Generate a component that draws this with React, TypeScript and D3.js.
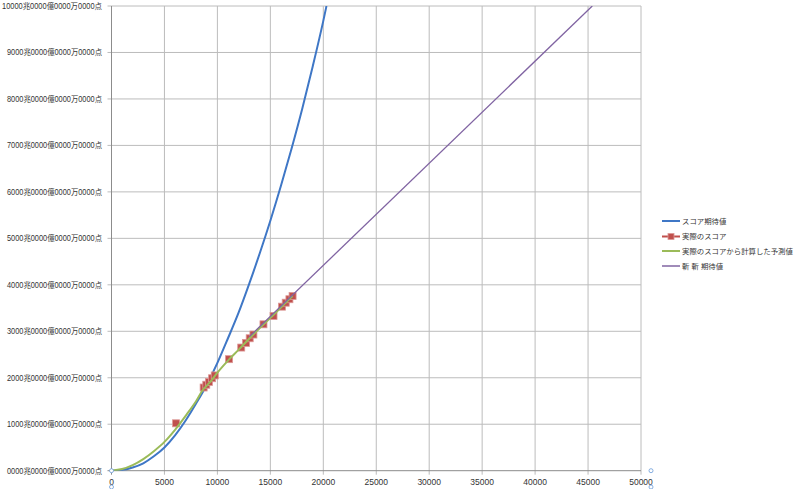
import React, { useEffect, useRef } from "react";
import * as d3 from "d3";

// blue: スコア期待値
const expectedX = [0, 1000, 2000, 3000, 4000, 5000, 6000, 7000, 8000, 9000, 10000, 11000, 12000, 13000, 14000, 15000, 16000, 17000, 18000, 19000, 20000, 20300];
const expectedY = [0, 15, 70, 160, 310, 500, 760, 1080, 1450, 1850, 2320, 2850, 3400, 4020, 4680, 5380, 6130, 6930, 7780, 8700, 9680, 10000];

// red: 実際のスコア
const actualX = [6100, 8700, 8950, 9200, 9500, 9750, 11100, 12250, 12700, 13050, 13400, 14350, 15300, 16100, 16450, 16800, 17100];
const actualY = [1020, 1790, 1850, 1910, 1990, 2050, 2400, 2650, 2750, 2850, 2930, 3150, 3330, 3530, 3615, 3690, 3760];

// green: 実際のスコアから計算した予測値
const predX = [0, 1000, 2000, 3000, 4000, 5000, 6000, 7000, 8000, 8700, 9000, 9500, 10000, 11000, 12000, 13000, 14000, 15000, 16000, 17000, 17100];
const predY = [0, 35, 120, 250, 420, 620, 880, 1180, 1500, 1760, 1830, 1960, 2110, 2370, 2600, 2840, 3070, 3290, 3510, 3740, 3760];

// purple: 斬 斬 期待値
const newX = [13000, 45400];
const newY = [2880, 10000];

const xTicks = [0, 5000, 10000, 15000, 20000, 25000, 30000, 35000, 40000, 45000, 50000];
const yTicks = [0, 1000, 2000, 3000, 4000, 5000, 6000, 7000, 8000, 9000, 10000];
const yTickLabels = [
  "0000兆0000億0000万0000点",
  "1000兆0000億0000万0000点",
  "2000兆0000億0000万0000点",
  "3000兆0000億0000万0000点",
  "4000兆0000億0000万0000点",
  "5000兆0000億0000万0000点",
  "6000兆0000億0000万0000点",
  "7000兆0000億0000万0000点",
  "8000兆0000億0000万0000点",
  "9000兆0000億0000万0000点",
  "10000兆0000億0000万0000点",
];

const seriesNames = ["スコア期待値", "実際のスコア", "実際のスコアから計算した予測値", "斬 斬 期待値"];
const seriesColors = ["#3f77c6", "#c0504d", "#9bbb59", "#8064a2"];

const App: React.FC = () => {
  const svgRef = useRef<SVGSVGElement | null>(null);

  useEffect(() => {
    document.body.style.margin = "0";
    if (!svgRef.current) return;
    const svg = d3.select(svgRef.current);
    svg.selectAll("*").remove();

    const width = 800;
    const height = 489;
    const left = 111.5;
    const right = 641;
    const top = 6;
    const bottom = 470.7;
    const font = "'Liberation Sans', 'Noto Sans CJK JP', sans-serif";

    svg.attr("width", width).attr("height", height).style("display", "block").style("background", "#fff");

    const x = d3.scaleLinear().domain([0, 50000]).range([left, right]);
    const y = d3.scaleLinear().domain([0, 10000]).range([bottom, top]);

    svg.append("clipPath").attr("id", "plot").append("rect")
      .attr("x", left).attr("y", top).attr("width", right - left).attr("height", bottom - top);

    // gridlines
    svg.append("g").selectAll("line").data(yTicks.slice(1)).enter().append("line")
      .attr("x1", left - 4).attr("x2", right)
      .attr("y1", (d) => y(d)).attr("y2", (d) => y(d))
      .attr("stroke", "#bcbcbc").attr("stroke-width", 1);
    svg.append("g").selectAll("line").data(xTicks.slice(1)).enter().append("line")
      .attr("x1", (d) => x(d)).attr("x2", (d) => x(d))
      .attr("y1", top).attr("y2", bottom + 4)
      .attr("stroke", "#bcbcbc").attr("stroke-width", 1);

    // axes
    svg.append("line").attr("x1", left).attr("x2", left).attr("y1", top).attr("y2", bottom)
      .attr("stroke", "#8c8c8c");
    svg.append("line").attr("x1", left - 4).attr("x2", right).attr("y1", bottom).attr("y2", bottom)
      .attr("stroke", "#8c8c8c");
    svg.append("line").attr("x1", left).attr("x2", left).attr("y1", bottom).attr("y2", bottom + 4)
      .attr("stroke", "#8c8c8c");

    svg.append("g").selectAll("text").data(yTicks).enter().append("text")
      .attr("x", 102).attr("y", (d) => y(d)).attr("dy", "0.35em")
      .attr("text-anchor", "end").attr("font-family", font).attr("font-size", 8.5)
      .attr("fill", "#333")
      .attr("textLength", (d) => (d >= 10000 ? 100 : 95))
      .attr("lengthAdjust", "spacingAndGlyphs")
      .text((d, i) => yTickLabels[i]);

    svg.append("g").selectAll("text").data(xTicks).enter().append("text")
      .attr("x", (d) => x(d)).attr("y", 485)
      .attr("text-anchor", "middle").attr("font-family", font).attr("font-size", 8.5)
      .attr("fill", "#333")
      .text((d) => String(d));

    const plot = svg.append("g").attr("clip-path", "url(#plot)");
    const line = d3.line<[number, number]>().x((d) => x(d[0])).y((d) => y(d[1])).curve(d3.curveMonotoneX);

    const expected = expectedX.map((v, i) => [v, expectedY[i]] as [number, number]);
    const pred = predX.map((v, i) => [v, predY[i]] as [number, number]);
    const nw = newX.map((v, i) => [v, newY[i]] as [number, number]);
    const actual = actualX.map((v, i) => [v, actualY[i]] as [number, number]);

    plot.append("path").attr("d", line(expected) || "").attr("fill", "none")
      .attr("stroke", seriesColors[0]).attr("stroke-width", 2);

    plot.selectAll("rect.pt").data(actual).enter().append("rect").attr("class", "pt")
      .attr("x", (d) => x(d[0]) - 3.5).attr("y", (d) => y(d[1]) - 3.5)
      .attr("width", 7).attr("height", 7)
      .attr("fill", seriesColors[1]).attr("stroke", "#dc9896").attr("stroke-width", 0.8);

    plot.append("path").attr("d", line(pred) || "").attr("fill", "none")
      .attr("stroke", seriesColors[2]).attr("stroke-width", 2);

    plot.append("path").attr("d", d3.line<[number, number]>().x((d) => x(d[0])).y((d) => y(d[1]))(nw) || "")
      .attr("fill", "none").attr("stroke", seriesColors[3]).attr("stroke-width", 1.3);

    // axis selection handles
    [[left, bottom], [left, 487], [651, bottom], [651, 487]].forEach(([hx, hy]) => {
      svg.append("circle").attr("cx", hx).attr("cy", hy).attr("r", 2)
        .attr("fill", "#fff").attr("stroke", "#6a9bd8").attr("stroke-width", 0.8);
    });

    // legend
    const legendY = [221, 236.5, 251, 266];
    const lg = svg.append("g");
    seriesNames.forEach((name, i) => {
      lg.append("line").attr("x1", 662).attr("x2", 680).attr("y1", legendY[i]).attr("y2", legendY[i])
        .attr("stroke", seriesColors[i]).attr("stroke-width", i === 3 ? 1.5 : 2);
      if (i === 1) {
        lg.append("rect").attr("x", 668).attr("y", legendY[i] - 3).attr("width", 6).attr("height", 6)
          .attr("fill", seriesColors[1]).attr("stroke", "#dc9896").attr("stroke-width", 0.8);
      }
      lg.append("text").attr("x", 682).attr("y", legendY[i]).attr("dy", "0.35em")
        .attr("font-family", font).attr("font-size", 7.4).attr("fill", "#333").text(name);
    });
  }, []);

  return <svg ref={svgRef}></svg>;
};

export default App;
